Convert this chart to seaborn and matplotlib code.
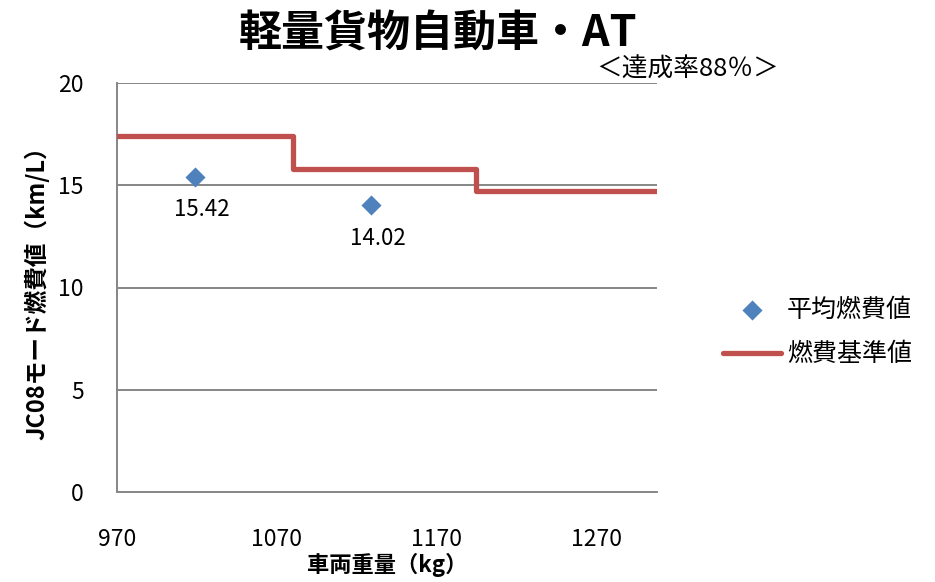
import matplotlib
matplotlib.use("Agg")
import matplotlib.pyplot as plt
import seaborn as sns
import pandas as pd

# 平均燃費値 (vehicle weight kg, JC08 km/L)
avg_weight = [1019, 1129]
avg_fuel = [15.42, 14.02]

# 燃費基準値: step thresholds (kg) and standard values (km/L)
std_weight = [970, 1080, 1195, 1308]
std_fuel = [17.4, 15.8, 14.7, 14.7]

x_ticks = [970, 1070, 1170, 1270]
y_ticks = [0, 5, 10, 15, 20]

title = "軽量貨物自動車・AT"
subtitle = "＜達成率88％＞"
xlabel = "車両重量（kg）"
ylabel = "JC08モード燃費値（km/L）"
avg_name = "平均燃費値"
std_name = "燃費基準値"

sns.set_theme(style="white")
plt.rcParams["font.family"] = ["Noto Sans CJK JP", "DejaVu Sans"]
plt.rcParams["text.color"] = "#000000"
plt.rcParams["axes.labelcolor"] = "#000000"

avg_df = pd.DataFrame({"weight": avg_weight, "fuel": avg_fuel})
std_df = pd.DataFrame({"weight": std_weight, "fuel": std_fuel})

fig = plt.figure(figsize=(9.35, 5.82), dpi=100)
ax = fig.add_axes([117 / 935, 1 - 492 / 582, (657 - 117) / 935, (492 - 83) / 582])

grid_c = "#868686"
for v in y_ticks[1:]:
    ax.axhline(v, color=grid_c, lw=1.4, zorder=0)

sns.lineplot(data=std_df, x="weight", y="fuel", ax=ax, color="#C0504D",
             lw=3.8, drawstyle="steps-post", sort=False, estimator=None,
             label=std_name, solid_capstyle="round", zorder=3)
sns.scatterplot(data=avg_df, x="weight", y="fuel", ax=ax, marker="D",
                color="#4F81BD", s=105, linewidth=0, label=avg_name, zorder=4)

for w, f in zip(avg_weight, avg_fuel):
    ax.annotate(f"{f:.2f}", (w, f), xytext=(5, -24), textcoords="offset points",
                ha="center", va="center", fontsize=16, color="#000000")

ax.set_xlim(970, 1308)
ax.set_ylim(0, 20)
ax.set_xticks(x_ticks)
ax.set_yticks(y_ticks)
ax.tick_params(axis="x", length=0, pad=26, labelsize=16.5, labelcolor="#000000")
ax.tick_params(axis="y", length=0, pad=24, labelsize=16.5, labelcolor="#000000")
for s in ["top", "right"]:
    ax.spines[s].set_visible(False)
for s in ["left", "bottom"]:
    ax.spines[s].set_color(grid_c)
    ax.spines[s].set_linewidth(1.4)

ax.set_xlabel(xlabel, fontsize=16, fontweight="bold", labelpad=1)
ax.set_ylabel(ylabel, fontsize=17, fontweight="bold", labelpad=6)

handles, labels = ax.get_legend_handles_labels()
order = [labels.index(avg_name), labels.index(std_name)]
ax.legend([handles[i] for i in order], [labels[i] for i in order],
          loc="center left", bbox_to_anchor=(723 / 935, 1 - 332 / 582),
          bbox_transform=fig.transFigure, frameon=False, fontsize=18,
          handlelength=2.3, handletextpad=0.25, borderpad=0, borderaxespad=0,
          labelspacing=0.75)

fig.text(438 / 935, 1 - 34 / 582, title, ha="center", va="center",
         fontsize=31, fontweight="bold")
fig.text(688 / 935, 1 - 70 / 582, subtitle, ha="center", va="center",
         fontsize=18.5)

fig.savefig("out.png", dpi=100)
